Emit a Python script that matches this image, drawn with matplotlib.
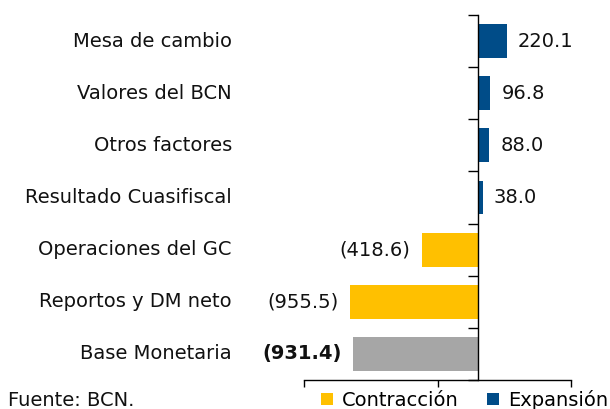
import numpy as np
import matplotlib.pyplot as plt
from matplotlib.patches import Patch
from matplotlib.transforms import blended_transform_factory

plt.rcParams['font.family'] = ['DejaVu Sans']

# data (top to bottom)
categories = ["Mesa de cambio", "Valores del BCN", "Otros factores",
              "Resultado Cuasifiscal", "Operaciones del GC",
              "Reportos y DM neto", "Base Monetaria"]
values = [220.1, 96.8, 88.0, 38.0, -418.6, -955.5, -931.4]
value_labels = ["220.1", "96.8", "88.0", "38.0", "(418.6)", "(955.5)", "(931.4)"]

BLUE = "#004C88"
GOLD = "#FFC000"
GRAY = "#A6A6A6"
FS = 14

colors = []
for i, v in enumerate(values):
    if i == len(values) - 1:
        colors.append(GRAY)
    elif v >= 0:
        colors.append(BLUE)
    else:
        colors.append(GOLD)

fig = plt.figure(figsize=(6.1, 4.09), dpi=100)
ax = fig.add_axes([304 / 610, 29 / 409, 267 / 610, 365 / 409])

y = np.arange(len(categories))
ax.barh(y, values, height=0.65, color=colors, zorder=2)

ax.set_xlim(-1300, 700)
ax.set_ylim(len(categories) - 0.5, -0.5)

# axes styling
for s in ["top", "right"]:
    ax.spines[s].set_visible(False)
ax.spines["left"].set_position(("data", 0))
ax.spines["left"].set_linewidth(1.0)
ax.spines["bottom"].set_linewidth(1.0)

ax.set_xticks([-1300, -300, 700])
ax.set_xticklabels([])
ax.tick_params(axis="x", direction="out", length=5, width=1.0)

ax.set_yticks(np.arange(-0.5, len(categories), 1.0))
ax.set_yticklabels([])
ax.tick_params(axis="y", direction="out", length=7, width=1.0)

# category labels
trans = blended_transform_factory(ax.transAxes, ax.transData)
for yi, name in zip(y, categories):
    ax.text(-0.27, yi, name, transform=trans, ha="right", va="center",
            fontsize=FS, color="#111111")

# value labels
for i, (yi, v, lab) in enumerate(zip(y, values, value_labels)):
    bold = "bold" if i == len(values) - 1 else "normal"
    if v >= 0:
        ax.annotate(lab, (v, yi), xytext=(8, 0), textcoords="offset points",
                    ha="left", va="center", fontsize=FS, fontweight=bold,
                    color="#111111")
    else:
        ax.annotate(lab, (v, yi), xytext=(-8, 0), textcoords="offset points",
                    ha="right", va="center", fontsize=FS, fontweight=bold,
                    color="#111111")

# legend and source
handles = [Patch(facecolor=GOLD, label="Contracción"),
           Patch(facecolor=BLUE, label="Expansión")]
fig.legend(handles=handles, loc="center left",
           bbox_to_anchor=(321 / 610, 1 - 400 / 409), ncol=2, frameon=False,
           fontsize=FS, handlelength=0.6, handleheight=0.6, handletextpad=0.45,
           columnspacing=1.5, borderpad=0, borderaxespad=0)

fig.text(8 / 610, 1 - 400 / 409, "Fuente: BCN.", ha="left", va="center",
         fontsize=FS, color="#111111")

fig.savefig("out.png", dpi=100)
